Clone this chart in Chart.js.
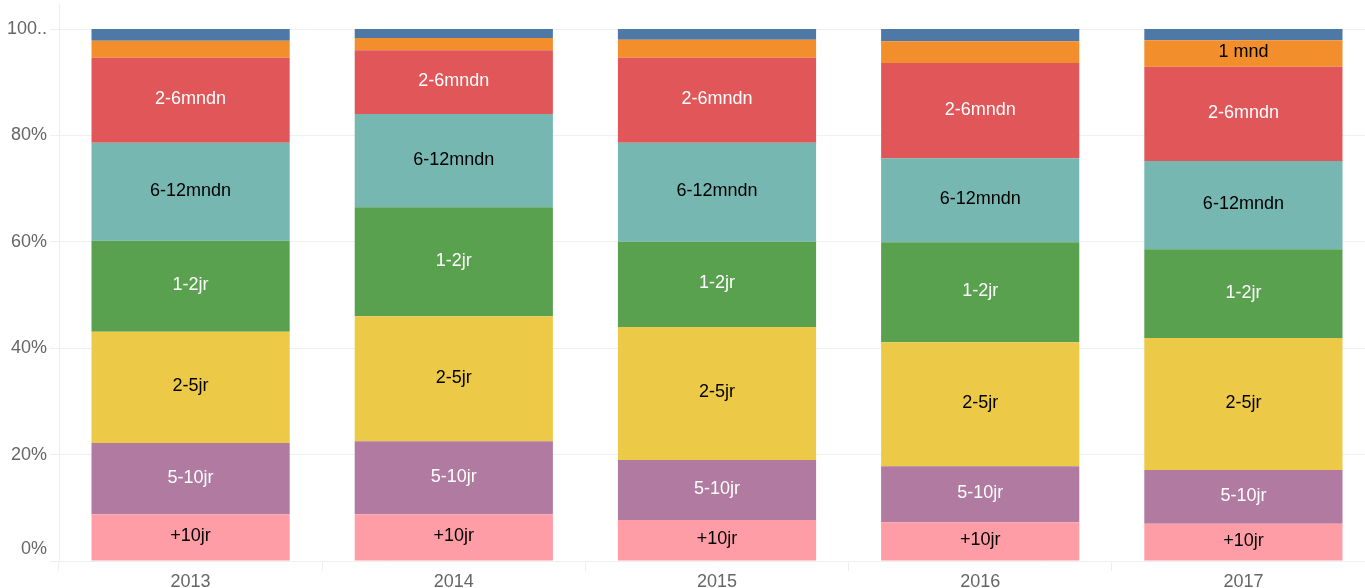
<!DOCTYPE html>
<html><head><meta charset="utf-8">
<script src="https://cdn.jsdelivr.net/npm/chart.js@4"></script>
<style>html,body{margin:0;padding:0;overflow:hidden;background:#fff}
#wrap{width:1375px;height:588px;position:relative}</style>
</head><body><div id="wrap"><canvas id="c" width="1375" height="588"></canvas></div>
<script>
const categories = ['2013', '2014', '2015', '2016', '2017'];
const seriesNames = ['+10jr', '5-10jr', '2-5jr', '1-2jr', '6-12mndn', '2-6mndn', '1 mnd', '< 1 mnd'];
const plus10jr   = [8.8, 8.8, 7.7, 7.3, 7.0];
const jr5_10     = [13.4, 13.7, 11.3, 10.5, 10.1];
const jr2_5      = [20.9, 23.5, 25.0, 23.3, 24.8];
const jr1_2      = [17.1, 20.5, 16.0, 18.8, 16.7];
const mndn6_12   = [18.4, 17.5, 18.6, 15.8, 16.6];
const mndn2_6    = [16.0, 12.0, 16.0, 17.9, 17.7];
const mnd1       = [3.2, 2.3, 3.4, 4.1, 5.0];
const mndLt1     = [2.2, 1.7, 2.0, 2.3, 2.1];
const yTicks = [0, 20, 40, 60, 80, 100];

const seriesValues = [plus10jr, jr5_10, jr2_5, jr1_2, mndn6_12, mndn2_6, mnd1, mndLt1];
const colors = ['#ff9da7', '#b07aa1', '#edc948', '#59a14f', '#76b7b2', '#e15759', '#f28e2b', '#4e79a7'];
const labelColors = ['#000', '#fff', '#000', '#fff', '#000', '#fff', '#000', '#fff'];
const FONT = "'Liberation Sans', Arial, Helvetica, sans-serif";

const barLabels = {
  id: 'barLabels',
  afterDatasetsDraw(chart) {
    const ctx = chart.ctx;
    ctx.save();
    ctx.font = '18px ' + FONT;
    ctx.textAlign = 'center';
    ctx.textBaseline = 'middle';
    chart.data.datasets.forEach((ds, i) => {
      if (i === 7) return;
      const meta = chart.getDatasetMeta(i);
      meta.data.forEach((el) => {
        const h = Math.abs(el.base - el.y);
        if (h < 25) return;
        ctx.fillStyle = labelColors[i];
        ctx.fillText(ds.label, el.x, (el.y + el.base) / 2 - 1);
      });
    });
    ctx.restore();
  }
};

const flushLabels = {
  id: 'flushLabels',
  beforeDraw(chart) {
    const s = chart.scales.y;
    const items = s.getLabelItems(chart.chartArea);
    items.forEach(it => {
      if (it.label === '0%') it.options.translation[1] -= 12;
    });
  }
};

new Chart(document.getElementById('c'), {
  type: 'bar',
  data: {
    labels: categories,
    datasets: seriesNames.map((n, i) => ({
      label: n,
      data: seriesValues[i],
      backgroundColor: colors[i],
      borderWidth: 0,
      categoryPercentage: 0.753,
      barPercentage: 1
    }))
  },
  options: {
    responsive: false,
    animation: false,
    devicePixelRatio: 1,
    layout: { padding: { top: 4, right: 0, bottom: 0, left: 0 } },
    plugins: { legend: { display: false }, tooltip: { enabled: false } },
    scales: {
      x: {
        stacked: true,
        offset: true,
        grid: { offset: true, drawOnChartArea: false, drawTicks: true, tickLength: 10, color: '#eeeeee' },
        border: { display: false },
        ticks: { color: '#666', font: { family: FONT, size: 18 }, padding: 0, maxRotation: 0 },
        afterFit(s) { s.height = 27; s.paddingLeft = 0; s.paddingRight = 0; }
      },
      y: {
        stacked: true,
        min: 0,
        max: 104.7,
        afterBuildTicks(s) { s.ticks = yTicks.map(v => ({ value: v })); },
        grid: { color: '#efefef', tickLength: 9 },
        border: { display: true, color: '#eeeeee' },
        ticks: {
          color: '#666',
          font: { family: FONT, size: 18 },
          padding: 3,
          callback: (v) => v === 100 ? '100..' : v + '%'
        },
        afterFit(s) { s.width = 59; s.paddingTop = 0; s.paddingBottom = 0; }
      }
    }
  },
  plugins: [barLabels, flushLabels]
});
</script></body></html>
